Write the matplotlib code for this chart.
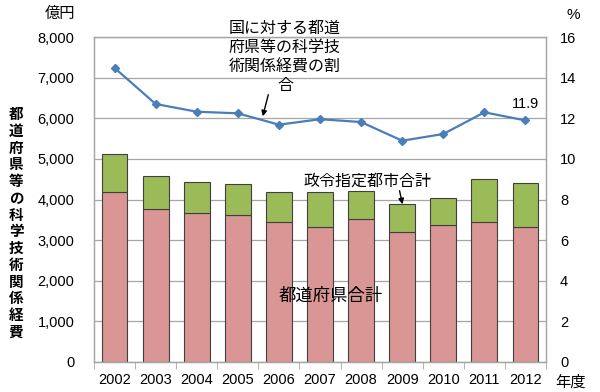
import numpy as np
import matplotlib
matplotlib.use('Agg')
import matplotlib.pyplot as plt

plt.rcParams['font.family'] = ['Liberation Sans', 'Noto Sans CJK JP', 'DejaVu Sans']

# data (億円, %)
years = ['2002', '2003', '2004', '2005', '2006', '2007', '2008', '2009', '2010', '2011', '2012']
prefecture_total = [4178, 3758, 3660, 3610, 3438, 3330, 3512, 3191, 3371, 3453, 3314]
grand_total = [5130, 4572, 4439, 4375, 4178, 4178, 4217, 3882, 4030, 4506, 4414]
city_total = [g - p for g, p in zip(grand_total, prefecture_total)]
share_pct = [14.49, 12.71, 12.33, 12.25, 11.69, 11.96, 11.82, 10.90, 11.23, 12.30, 11.9]

pink = '#D99694'
green = '#9BBB59'
blue = '#4A7EBB'
edge = '#404040'
grid_col = '#A6A6A6'

fig = plt.figure(figsize=(6.0, 3.92), dpi=100)
ax = fig.add_axes([94/600, 1-361.7/392, 452/600, (361.7-37.3)/392])
x = np.arange(len(years))

ax.bar(x, prefecture_total, width=0.63, color=pink, edgecolor=edge, linewidth=0.8, zorder=2)
ax.bar(x, city_total, width=0.63, bottom=prefecture_total, color=green, edgecolor=edge, linewidth=0.8, zorder=2)

ax.set_xlim(-0.5, len(years) - 0.5)
ax.set_ylim(0, 8000)
ax.set_yticks(np.arange(0, 8001, 1000))
ax.set_yticklabels([f'{v:,}' for v in range(0, 8001, 1000)])
ax.set_xticks(x)
ax.set_xticklabels(years)
ax.set_xticks(np.arange(-0.5, len(years), 1), minor=True)
ax.tick_params(axis='x', which='major', length=0, pad=8, labelsize=10.5)
ax.tick_params(axis='x', which='minor', length=5, color=grid_col, direction='out')
ax.tick_params(axis='y', length=0, pad=14, labelsize=10.5)
ax.yaxis.grid(True, color=grid_col, linewidth=0.9, zorder=0)
ax.set_axisbelow(True)
for s in ax.spines.values():
    s.set_color(grid_col)
    s.set_linewidth(0.9)

ax2 = ax.twinx()
ax2.plot(x, share_pct, color=blue, linewidth=1.6, marker='D', markersize=4, zorder=3)
ax2.set_ylim(0, 16)
ax2.set_yticks(np.arange(0, 17, 2))
ax2.tick_params(axis='y', length=0, pad=10, labelsize=10.5)
for s in ax2.spines.values():
    s.set_color(grid_col)
    s.set_linewidth(0.9)

# text labels
fig.text(60/600, 1-14/392, '億円', ha='center', va='center', fontsize=11)
fig.text(573/600, 1-15/392, '%', ha='center', va='center', fontsize=11)
fig.text(570/600, 1-382/392, '年度', ha='center', va='center', fontsize=11)
fig.text(16/600, 1-224/392, '\n'.join('都道府県等の科学技術関係経費'), ha='center', va='center',
         fontsize=10.5, fontweight='bold', linespacing=1.25)

fig.text(285/600, 1-57/392, '国に対する都道\n府県等の科学技\n術関係経費の割\n合', ha='center', va='center',
         fontsize=11.5, linespacing=1.35)
ax.annotate('', xy=(262/600, 1-119/392), xytext=(269/600, 1-92/392),
            xycoords='figure fraction', textcoords='figure fraction',
            arrowprops=dict(arrowstyle='-|>', color='black', lw=1.0, mutation_scale=8))

fig.text(368/600, 1-181/392, '政令指定都市合計', ha='center', va='center', fontsize=11.5)
ax.annotate('', xy=(403/600, 1-207/392), xytext=(399/600, 1-188/392),
            xycoords='figure fraction', textcoords='figure fraction',
            arrowprops=dict(arrowstyle='-|>', color='black', lw=1.0, mutation_scale=8))

fig.text(331/600, 1-296/392, '都道府県合計', ha='center', va='center', fontsize=12.5)
ax2.annotate(f'{share_pct[-1]:.1f}', xy=(x[-1], share_pct[-1]), xytext=(0, 7),
             textcoords='offset points', ha='center', va='bottom', fontsize=10.5)

fig.savefig('out.png', dpi=100)
